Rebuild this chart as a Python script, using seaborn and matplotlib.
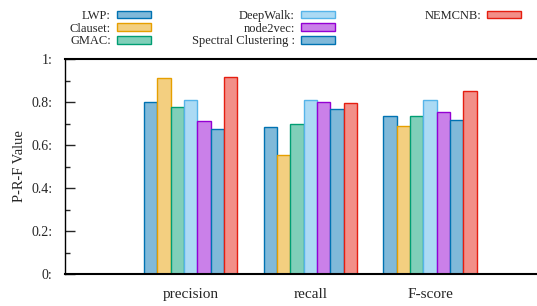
import pandas as pd
import matplotlib
matplotlib.use('Agg')
import matplotlib.pyplot as plt
import matplotlib.patches as mpatches
from matplotlib.colors import to_rgb
from matplotlib.ticker import MultipleLocator
import seaborn as sns

# data
metrics = ['precision', 'recall', 'F-score']
methods = ['LWP', 'Clauset', 'GMAC', 'DeepWalk', 'node2vec', 'Spectral Clustering', 'NEMCNB']
legend_labels = ['LWP:', 'Clauset:', 'GMAC:', 'DeepWalk:', 'node2vec:', 'Spectral Clustering :', 'NEMCNB:']
precision = [0.800, 0.910, 0.777, 0.808, 0.710, 0.673, 0.918]
recall = [0.682, 0.552, 0.699, 0.809, 0.799, 0.766, 0.794]
fscore = [0.735, 0.687, 0.735, 0.809, 0.752, 0.718, 0.851]
yticks = [0, 0.2, 0.4, 0.6, 0.8, 1.0]
ytick_labels = ['0:', '0.2:', '0.4:', '0.6:', '0.8:', '1:']

edge_colors = ['#0072b2', '#e69f00', '#009e73', '#56b4e9', '#9400d3', '#0072b2', '#e51e10']
# gnuplot style half transparent fill on white
fill_colors = [tuple(0.5 * c + 0.5 for c in to_rgb(e)) for e in edge_colors]

rows = []
for metric, vals in zip(metrics, [precision, recall, fscore]):
    for method, v in zip(methods, vals):
        rows.append({'metric': metric, 'method': method, 'value': v})
df = pd.DataFrame(rows)

sns.set_style('white')
plt.rcParams['font.family'] = ['Liberation Serif', 'DejaVu Serif']

fig = plt.figure(figsize=(5.37, 3.06), dpi=100)
ax = fig.add_axes([65 / 537, 1 - 274 / 306, 1 - 65 / 537, (274 - 59) / 306])

sns.barplot(data=df, x='metric', y='value', hue='method', order=metrics,
            hue_order=methods, palette=fill_colors, width=0.78, gap=0,
            saturation=1, legend=False, ax=ax)

for cont, ec in zip(ax.containers, edge_colors):
    for bar in cont.patches:
        bar.set_edgecolor(ec)
        bar.set_linewidth(1.0)

ax.set_xlim(-1.052, 2.895)
ax.set_ylim(0, 1)
ax.set_yticks(yticks)
ax.set_yticklabels(ytick_labels, fontsize=10)
ax.yaxis.set_minor_locator(MultipleLocator(0.1))
ax.tick_params(axis='y', which='major', direction='in', length=7, width=1, pad=9, left=True)
ax.tick_params(axis='y', which='minor', direction='in', length=3.5, width=1, left=True)
ax.tick_params(axis='x', length=0, pad=10, labelsize=11)
ax.set_xlabel('')
ax.set_ylabel('P-R-F Value', fontsize=10.5, labelpad=4)

for side in ['left', 'top', 'bottom']:
    ax.spines[side].set_visible(True)
    ax.spines[side].set_color('black')
ax.spines['left'].set_linewidth(1.0)
ax.spines['top'].set_linewidth(1.5)
ax.spines['bottom'].set_linewidth(1.5)
ax.spines['right'].set_visible(False)

handles = [mpatches.Patch(facecolor=f, edgecolor=e, linewidth=1.0)
           for f, e in zip(fill_colors, edge_colors)]

# three legend columns as in the reference
groups = [(slice(0, 3), 151), (slice(3, 6), 335), (slice(6, 7), 521)]
for sl, xr in groups:
    leg = fig.legend(handles[sl], legend_labels[sl], loc='upper right',
                     bbox_to_anchor=(xr / 537, 1 - 10 / 306),
                     bbox_transform=fig.transFigure, frameon=False,
                     markerfirst=False, fontsize=9, handlelength=2.7,
                     handleheight=0.55, handletextpad=0.5, labelspacing=0.05,
                     borderpad=0, borderaxespad=0)

fig.savefig('out.png', dpi=100)
